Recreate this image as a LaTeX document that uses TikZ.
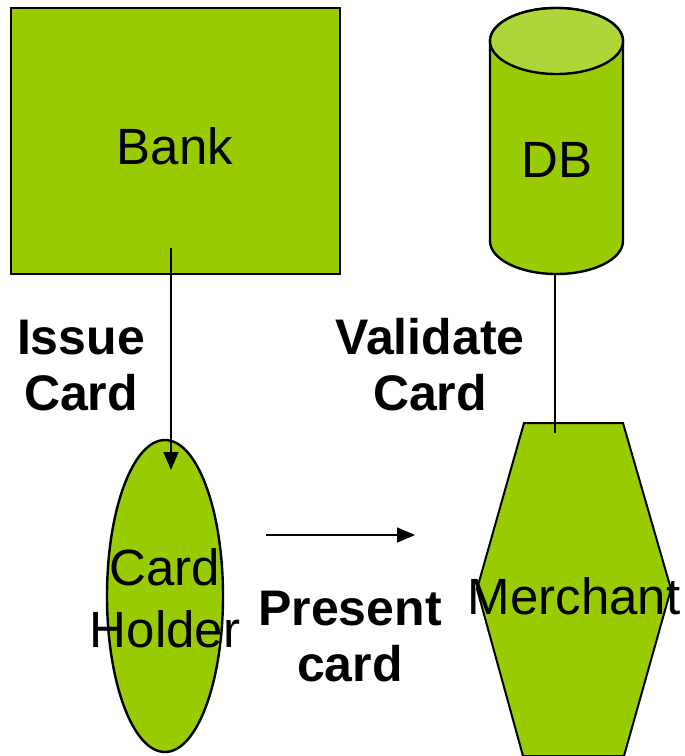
\documentclass[tikz,border=0pt]{standalone}
\usepackage{fontspec}
\setmainfont{Liberation Sans}
\usetikzlibrary{arrows.meta,shapes.geometric}
\definecolor{leaf}{HTML}{99CC00}
\definecolor{leaftop}{HTML}{AED638}
\tikzset{
  entity/.style={draw=black,line width=2.4pt,fill=leaf},
  plain/.style={font=\fontsize{51}{62}\selectfont,align=center,inner sep=0pt},
  caption/.style={font=\bfseries\fontsize{50}{56}\selectfont,align=center,inner sep=0pt},
  link/.style={draw=black,line width=1.6pt},
  flow/.style={link,-{Triangle[length=18pt,width=15pt]}}
}
\begin{document}
\begin{tikzpicture}[x=1pt,y=-1pt]
  \useasboundingbox (0,0) rectangle (685,756);

  % Bank
  \node[entity,rectangle,minimum width=329pt,minimum height=266pt] (bank) at (175.5,141) {};
  \node[plain] (banktext) at (175,146) {Bank};

  % Card holder
  \node[entity,ellipse,minimum width=116pt,minimum height=312pt,inner sep=0pt] (holder) at (165,596) {};
  \node[plain] (holdertext) at (165,598) {Card\\Holder};

  % Database cylinder (y axis points down, so angles run the other way)
  \path[entity] (490,41) -- (490,241) arc[start angle=180,end angle=0,x radius=66.5,y radius=33]
    -- (623,41) arc[start angle=0,end angle=-180,x radius=66.5,y radius=33] -- cycle;
  \path[entity,fill=leaftop] (556.5,41) ellipse[x radius=66.5,y radius=33];
  \node[plain] (dbtext) at (557,160) {DB};

  % Merchant hexagon
  \path[entity,line width=2pt] (524,423) -- (623,423) -- (671,589) -- (624,756) -- (523,756) -- (477,589) -- cycle;
  \node[plain] (merchant) at (574,596) {Merchant};

  % Connector end points
  \coordinate (bankfoot) at (171,248);
  \coordinate (holdertop) at (171,470);
  \coordinate (dbfoot) at (555,274);
  \coordinate (merchtop) at (555,433);
  \coordinate (presentfrom) at (266,535);
  \coordinate (presentto) at (415,535);

  \draw[flow] (bankfoot) -- (holdertop);
  \draw[link] (dbfoot) -- (merchtop);
  \draw[flow] (presentfrom) -- (presentto);

  % Labels
  \node[caption] (issue) at (81,366) {Issue\\Card};
  \node[caption] (validate) at (430,365) {Validate\\Card};
  \node[caption] (present) at (350,637) {Present\\card};
\end{tikzpicture}
\end{document}
